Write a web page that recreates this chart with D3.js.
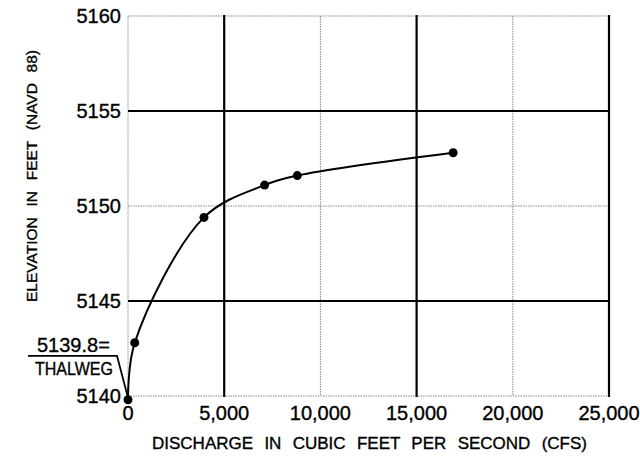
<!DOCTYPE html>
<html><head><meta charset="utf-8">
<script src="https://cdn.jsdelivr.net/npm/d3@7"></script>
<style>
html,body{margin:0;padding:0;background:#fff;}
text{font-family:"Liberation Sans",Arial,sans-serif;fill:#000;stroke:#000;stroke-width:0.35px;}
</style></head>
<body><svg id="c" width="640" height="460"></svg>
<script>
const discharge = [0, 350, 3950, 7100, 8800, 16900];
const elevation = [5139.8, 5142.8, 5149.4, 5151.1, 5151.6, 5152.8];
const xTicks = [0, 5000, 10000, 15000, 20000, 25000];
const yTicks = [5140, 5145, 5150, 5155, 5160];
const xMajor = [5000, 15000, 25000];
const yMajor = [5145, 5155];
const xMinor = [0, 10000, 20000];
const yMinor = [5140, 5150, 5160];
const xTitle = "DISCHARGE IN CUBIC FEET PER SECOND (CFS)";
const yTitle = "ELEVATION IN FEET (NAVD 88)";
const thalwegValue = "5139.8=";
const thalwegLabel = "THALWEG";

const svg = d3.select("#c");
const L = 128, R = 609, T = 16, B = 396;
const x = d3.scaleLinear().domain([0, 25000]).range([L, R]);
const y = d3.scaleLinear().domain([5140, 5160]).range([B, T]);

// minor (dotted) grid
const g = svg.append("g");
g.selectAll(".vmin").data(xMinor).enter().append("line")
  .attr("x1", d => x(d)).attr("x2", d => x(d)).attr("y1", T).attr("y2", B)
  .attr("stroke", "#888").attr("stroke-width", 1).attr("stroke-dasharray", "1.5,1");
g.selectAll(".hmin").data(yMinor).enter().append("line")
  .attr("x1", L).attr("x2", R).attr("y1", d => y(d)).attr("y2", d => y(d))
  .attr("stroke", "#888").attr("stroke-width", 1).attr("stroke-dasharray", "1.5,1");
// major grid
g.selectAll(".vmaj").data(xMajor).enter().append("line")
  .attr("x1", d => x(d)).attr("x2", d => x(d)).attr("y1", T - 1).attr("y2", B + 1)
  .attr("stroke", "#000").attr("stroke-width", 2.2);
g.selectAll(".hmaj").data(yMajor).enter().append("line")
  .attr("x1", L).attr("x2", R).attr("y1", d => y(d)).attr("y2", d => y(d))
  .attr("stroke", "#000").attr("stroke-width", 2.2);

// tick labels
svg.append("g").selectAll("text").data(yTicks).enter().append("text")
  .attr("x", L - 7).attr("y", d => y(d) + 7).attr("text-anchor", "end")
  .attr("font-size", 20).text(d => d);
svg.append("g").selectAll("text").data(xTicks).enter().append("text")
  .attr("x", d => x(d)).attr("y", 420).attr("text-anchor", "middle")
  .attr("font-size", 20).text(d => d === 0 ? "0" : d3.format(",")(d));

// titles, word spacing fitted to the drawing's width
function fitWords(sel, target) {
  const n = sel.text().split(" ").length - 1;
  const len = sel.node().getComputedTextLength();
  sel.style("word-spacing", Math.max(0, (target - len) / n) + "px");
}
const xt = svg.append("text").attr("x", 369.5).attr("y", 449).attr("text-anchor", "middle")
  .attr("font-size", 17).text(xTitle);
fitWords(xt, 435);
const yt = svg.append("text").attr("transform", "translate(37,176) rotate(-90)")
  .attr("text-anchor", "middle").attr("font-size", 15.5).text(yTitle);
fitWords(yt, 252);

// thalweg annotation
const tx = x(discharge[0]), ty = y(elevation[0]);
svg.append("path")
  .attr("d", `M${tx - 100},${ty - 44}L${tx - 11},${ty - 44}L${tx},${ty - 2}`)
  .attr("fill", "none").attr("stroke", "#000").attr("stroke-width", 1.8);
svg.append("text").attr("x", 37).attr("y", ty - 48).attr("font-size", 20).text(thalwegValue);
svg.append("text").attr("x", 35).attr("y", ty - 25).attr("font-size", 18)
  .attr("textLength", 78).attr("lengthAdjust", "spacingAndGlyphs").text(thalwegLabel);

// curve
const pts = discharge.map((d, i) => [d, elevation[i]]);
svg.append("path").datum(pts)
  .attr("d", d3.line().x(d => x(d[0])).y(d => y(d[1])).curve(d3.curveCatmullRom.alpha(0.5)))
  .attr("fill", "none").attr("stroke", "#000").attr("stroke-width", 2);
svg.append("g").selectAll("circle").data(pts).enter().append("circle")
  .attr("cx", d => x(d[0])).attr("cy", d => y(d[1])).attr("r", 4.5).attr("fill", "#000");
</script></body></html>
